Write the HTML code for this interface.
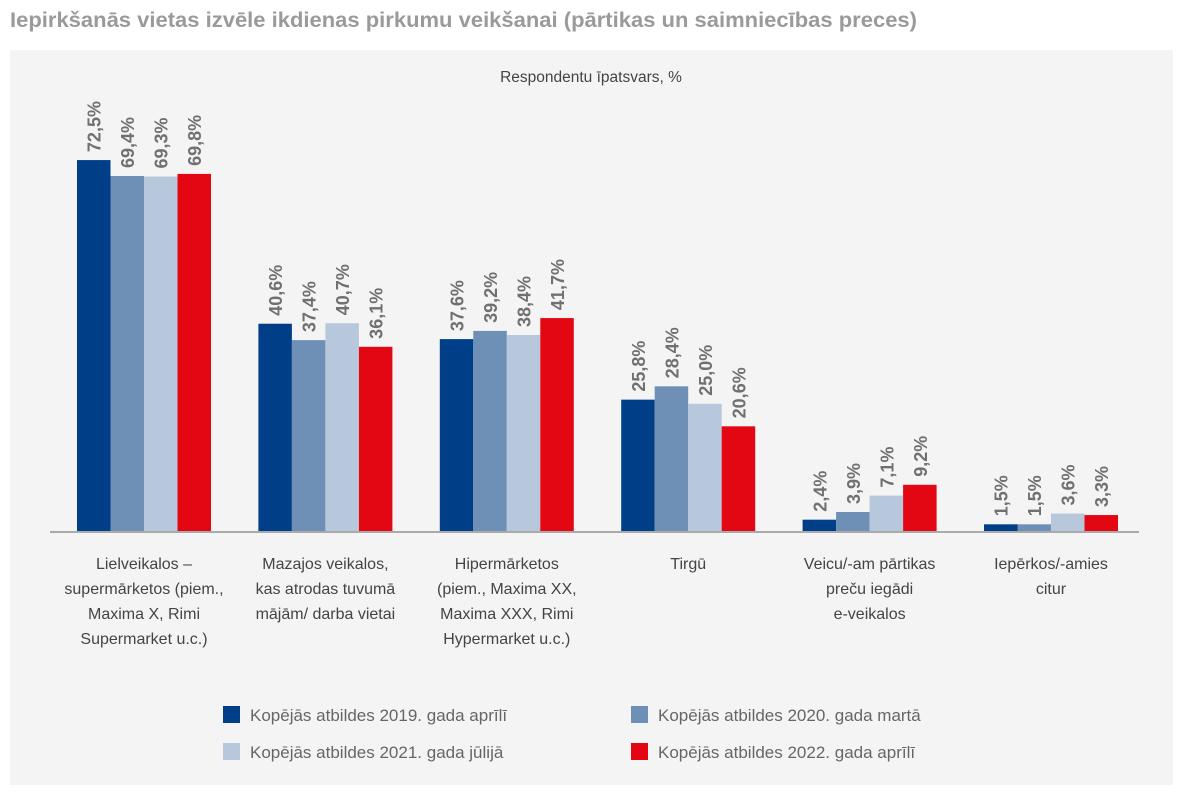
<!DOCTYPE html>
<html><head><meta charset="utf-8">
<style>
body{margin:0;background:#fff;width:1184px;height:795px;overflow:hidden;font-family:"Liberation Sans",sans-serif;}
</style></head>
<body>
<svg id="chart" width="1184" height="795" xmlns="http://www.w3.org/2000/svg">
<text x="10" y="27" font-size="21" font-weight="bold" fill="#9a9a9a" textLength="907" lengthAdjust="spacingAndGlyphs">Iepirkšanās vietas izvēle ikdienas pirkumu veikšanai (pārtikas un saimniecības preces)</text>
<rect x="10" y="50" width="1163" height="735" fill="#f4f4f4"/>
<text x="591" y="82" font-size="15.5" fill="#444" text-anchor="middle">Respondentu īpatsvars, %</text>
<g id="bars"></g>
<line x1="50" y1="532" x2="1139" y2="532" stroke="#aaa" stroke-width="2"/>
<g id="cats"></g>
<g id="legend"></g>
</svg>
<script>
const categories=[
 ["Lielveikalos –","supermārketos (piem.,","Maxima X, Rimi","Supermarket u.c.)"],
 ["Mazajos veikalos,","kas atrodas tuvumā","mājām/ darba vietai"],
 ["Hipermārketos","(piem., Maxima XX,","Maxima XXX, Rimi","Hypermarket u.c.)"],
 ["Tirgū"],
 ["Veicu/-am pārtikas","preču iegādi","e-veikalos"],
 ["Iepērkos/-amies","citur"]
];
const s2019=[72.5,40.6,37.6,25.8,2.4,1.5];
const s2020=[69.4,37.4,39.2,28.4,3.9,1.5];
const s2021=[69.3,40.7,38.4,25.0,7.1,3.6];
const s2022=[69.8,36.1,41.7,20.6,9.2,3.3];
const seriesNames=["Kopējās atbildes 2019. gada aprīlī","Kopējās atbildes 2020. gada martā","Kopējās atbildes 2021. gada jūlijā","Kopējās atbildes 2022. gada aprīlī"];
const series=[s2019,s2020,s2021,s2022];
const colors=["#003f87","#6e8fb6","#b8c8dc","#e30613"];
const NS="http://www.w3.org/2000/svg";
const base=532, k=5.13, g0=77, gstep=181.4, bw=33.5;
const yS=v=>base-v*k;
const xS=(c,s)=>g0+c*gstep+s*bw;
const bars=document.getElementById('bars');
series.forEach((vals,s)=>{
 vals.forEach((v,c)=>{
  const r=document.createElementNS(NS,'rect');
  r.setAttribute('x',xS(c,s));r.setAttribute('y',yS(v));
  r.setAttribute('width',bw);r.setAttribute('height',base-yS(v));
  r.setAttribute('fill',colors[s]);
  
  
  bars.appendChild(r);
  const t=document.createElementNS(NS,'text');
  const cx=xS(c,s)+bw/2+7, ty=yS(v)-8;
  t.setAttribute('x',cx);t.setAttribute('y',ty);
  t.setAttribute('transform','rotate(-90 '+cx+' '+ty+')');
  t.setAttribute('font-size','18');t.setAttribute('font-weight','bold');t.setAttribute('fill','#707070');
  t.textContent=v.toFixed(1).replace('.',',')+'%';
  
  
  bars.appendChild(t);
 });
});
const cats=document.getElementById('cats');
categories.forEach((lines,c)=>{
 const cx=xS(c,2);
 lines.forEach((ln,i)=>{
  const t=document.createElementNS(NS,'text');
  t.setAttribute('x',cx);t.setAttribute('y',569+i*25);
  t.setAttribute('text-anchor','middle');t.setAttribute('font-size','16');t.setAttribute('fill','#444');
  t.textContent=ln;
  
  
  cats.appendChild(t);
 });
});
const lg=document.getElementById('legend');
const lpos=[[223,706],[631,706],[223,743],[631,743]];
seriesNames.forEach((n,i)=>{
 const g=document.createElementNS(NS,'g');
 
 
 const r=document.createElementNS(NS,'rect');
 r.setAttribute('x',lpos[i][0]);r.setAttribute('y',lpos[i][1]);r.setAttribute('width',17);r.setAttribute('height',17);r.setAttribute('fill',colors[i]);
 
 
 const t=document.createElementNS(NS,'text');
 t.setAttribute('x',lpos[i][0]+27);t.setAttribute('y',lpos[i][1]+15);t.setAttribute('font-size','17');t.setAttribute('fill','#666');
 t.textContent=n;
 
 
 g.appendChild(r);g.appendChild(t);lg.appendChild(g);
});
</script>
</body></html>
